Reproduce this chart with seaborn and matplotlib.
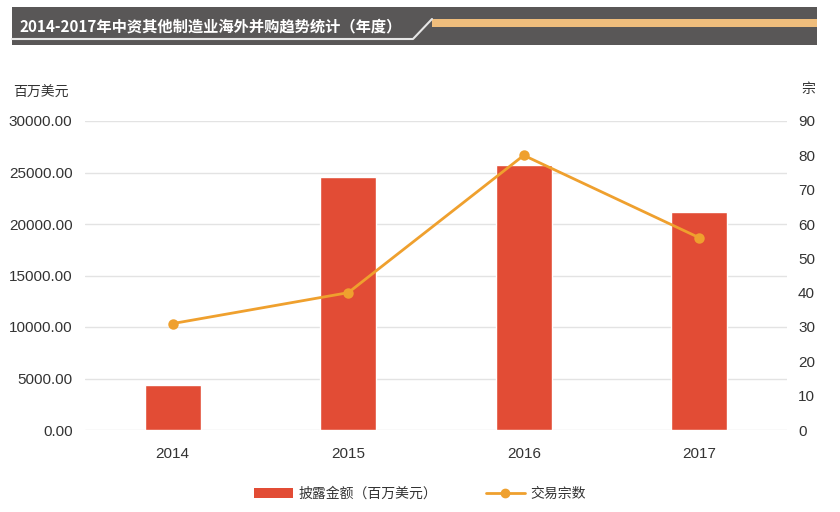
import matplotlib
matplotlib.use("Agg")
import matplotlib.pyplot as plt
import seaborn as sns
import pandas as pd
from matplotlib.patches import Rectangle
from matplotlib.lines import Line2D
from matplotlib.patches import Patch

years = ["2014", "2015", "2016", "2017"]
amount = [4400, 24600, 25700, 21200]
deals = [31, 40, 80, 56]
left_ticks = [0, 5000, 10000, 15000, 20000, 25000, 30000]
right_ticks = [0, 10, 20, 30, 40, 50, 60, 70, 80, 90]

title = "2014-2017年中资其他制造业海外并购趋势统计（年度）"
bar_label = "披露金额（百万美元）"
line_label = "交易宗数"
left_unit = "百万美元"
right_unit = "宗"

BAR_C = "#E24C35"
LINE_C = "#EFA02E"
TEXT_C = "#333333"
GRID_C = "#E3E3E3"

sns.set_theme(style="white")
plt.rcParams["font.family"] = ["Noto Sans CJK SC", "DejaVu Sans"]
NUM_FONT = ["Liberation Sans Narrow", "Liberation Sans", "DejaVu Sans"]

df = pd.DataFrame({"year": years, "amount": amount, "deals": deals})

fig = plt.figure(figsize=(8.4, 5.12), dpi=100)
ax = fig.add_axes([85 / 840, 1 - 430 / 512, (787 - 85) / 840, (430 - 121) / 512])

sns.barplot(data=df, x="year", y="amount", color=BAR_C, width=0.32,
            saturation=1, ax=ax, zorder=2)
ax.set_ylim(0, 30000)
ax.set_xlim(-0.5, 3.5)
ax.set_yticks(left_ticks)
ax.set_yticklabels([f"{v:.2f}" for v in left_ticks], family=NUM_FONT, fontsize=11, color=TEXT_C)
ax.set_xticks(range(len(years)))
ax.set_xticklabels(years, family=NUM_FONT, fontsize=11, color=TEXT_C)
ax.tick_params(axis="y", length=0, pad=9)
ax.tick_params(axis="x", length=0, pad=12)
ax.set_xlabel("")
ax.set_ylabel("")
ax.grid(axis="y", color=GRID_C, linewidth=1, zorder=0)
ax.set_axisbelow(True)
for s in ax.spines.values():
    s.set_visible(False)

ax2 = ax.twinx()
sns.pointplot(data=df, x="year", y="deals", color=LINE_C, markers="o",
              linestyles="-", ax=ax2, markersize=6, linewidth=2)
ax2.set_ylim(0, 90)
ax2.set_xlim(-0.5, 3.5)
ax2.set_yticks(right_ticks)
ax2.set_yticklabels([str(v) for v in right_ticks], family=NUM_FONT, fontsize=11, color=TEXT_C)
ax2.tick_params(axis="y", length=0, pad=8)
ax2.set_ylabel("")
ax2.set_xlabel("")
ax2.grid(False)
for s in ax2.spines.values():
    s.set_visible(False)

# unit labels
fig.text(13 / 840, 1 - 93 / 512, left_unit, fontsize=10, color=TEXT_C, va="center", ha="left")
fig.text(815 / 840, 1 - 89 / 512, right_unit, fontsize=10, color=TEXT_C, va="center", ha="right")

# title banner
W, H = 840, 512
def fx(x):
    return x / W
def fy(y):
    return 1 - y / H
fig.patches.append(Rectangle((fx(12), fy(45)), fx(817) - fx(12), fy(7) - fy(45),
                             transform=fig.transFigure, facecolor="#595757", edgecolor="none", zorder=0))
fig.patches.append(Rectangle((fx(432), fy(27)), fx(817) - fx(432), fy(19) - fy(27),
                             transform=fig.transFigure, facecolor="#EFBD7C", edgecolor="none", zorder=1))
fig.lines.append(Line2D([fx(12), fx(413), fx(432)], [fy(39), fy(39), fy(19)],
                        transform=fig.transFigure, color="#E6E6E6", linewidth=1.5, zorder=2))
fig.text(fx(20), fy(26), title, color="white", fontsize=11, fontweight="bold",
         va="center", ha="left")

# legend
handles = [Patch(facecolor=BAR_C, edgecolor="none"),
           Line2D([0], [0], color=LINE_C, marker="o", markersize=6, linewidth=2)]
fig.legend(handles, [bar_label, line_label], loc="center", ncol=2,
           bbox_to_anchor=(0.5, fy(494)), frameon=False, fontsize=10,
           handlelength=2.8, handleheight=0.8, columnspacing=3.5, handletextpad=0.4,
           labelcolor=TEXT_C)

fig.savefig("out.png", dpi=100)
